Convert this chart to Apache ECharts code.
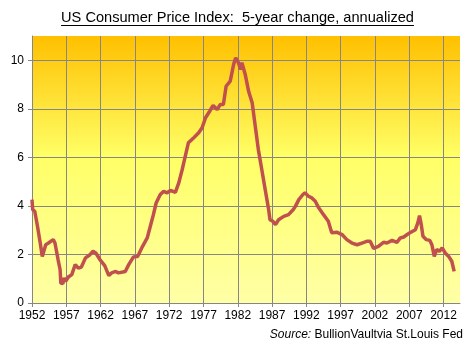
<!DOCTYPE html>
<html><head><meta charset="utf-8">
<script src="https://cdn.jsdelivr.net/npm/echarts@6/dist/echarts.min.js"></script>
<style>html,body{margin:0;padding:0;background:#fff}#c{width:475px;height:345px}</style>
</head><body><div id="c"></div>
<script>
const years = [1952.0,1952.1,1952.4,1952.8,1953.2,1953.5,1954.0,1954.4,1955.1,1955.35,1955.8,1956.1,1956.2,1956.5,1956.7,1956.9,1957.3,1957.8,1958.3,1958.75,1959.2,1959.8,1960.45,1960.9,1961.3,1961.9,1962.6,1963.2,1963.6,1964.2,1964.6,1965.6,1966.1,1966.8,1967.4,1968.0,1968.8,1969.25,1969.7,1970.1,1970.7,1971.2,1971.7,1972.2,1972.9,1973.4,1973.9,1974.35,1974.8,1975.55,1976.3,1976.8,1977.3,1977.9,1978.4,1979.0,1979.45,1979.9,1980.3,1980.9,1981.4,1981.7,1982.1,1982.4,1982.6,1983.1,1983.6,1984.1,1984.55,1985.0,1985.5,1986.0,1986.5,1986.7,1987.1,1987.5,1987.95,1988.7,1989.4,1989.65,1990.1,1990.4,1990.9,1991.5,1991.8,1992.3,1992.8,1993.3,1993.8,1994.5,1995.2,1995.7,1996.5,1997.2,1997.9,1998.65,1999.4,2000.1,2000.8,2001.3,2001.8,2002.5,2003.25,2003.75,2004.5,2005.2,2005.7,2006.2,2006.7,2007.1,2007.9,2008.25,2008.5,2008.75,2009.0,2009.5,2010.0,2010.3,2010.65,2011.0,2011.4,2011.8,2012.25,2012.75,2013.2,2013.55];
const cpiChange = [4.26,3.85,3.78,3.16,2.47,1.92,2.40,2.47,2.61,2.47,1.79,1.37,0.82,0.80,1.03,0.89,1.07,1.17,1.58,1.44,1.48,1.86,1.99,2.13,2.06,1.79,1.54,1.13,1.24,1.30,1.24,1.30,1.58,1.90,1.92,2.27,2.68,3.16,3.64,4.12,4.47,4.60,4.54,4.64,4.56,4.95,5.50,6.05,6.60,6.80,7.01,7.22,7.63,7.90,8.14,7.97,8.18,8.18,8.93,9.14,9.83,10.10,9.90,9.62,9.90,9.40,8.70,8.25,7.28,6.32,5.50,4.67,3.85,3.43,3.37,3.23,3.43,3.57,3.64,3.71,3.85,3.98,4.26,4.47,4.54,4.40,4.33,4.19,3.92,3.64,3.37,2.89,2.91,2.82,2.61,2.47,2.40,2.47,2.54,2.54,2.25,2.33,2.50,2.47,2.58,2.50,2.68,2.72,2.82,2.89,3.02,3.30,3.60,3.23,2.75,2.61,2.58,2.40,1.92,2.20,2.13,2.27,2.06,1.92,1.72,1.30];
const xTickStart = 1952, xTickStep = 5, xEnd = 2014.4;
const yMax = 11, yStep = 2;
const titleText = 'US Consumer Price Index:  5-year change, annualized';
const sourceLabel = 'Source:';
const sourceText = ' BullionVaultvia St.Louis Fed';

const chart = echarts.init(document.getElementById('c'), null, {renderer:'canvas'});
const font = '"Liberation Sans", Arial, sans-serif';
const titleFont = '14.6px ' + font;
const ctx = document.createElement('canvas').getContext('2d');
ctx.font = titleFont;
const tw = ctx.measureText(titleText).width;
const tx0 = (475 - tw) / 2;
chart.setOption({
  animation: false,
  grid: {left: 32, right: 15, top: 36, bottom: 42, show: true, borderWidth: 0,
    backgroundColor: new echarts.graphic.LinearGradient(0,0,0,1,[
      {offset:0, color:'#ffc000'},{offset:0.45, color:'#ffff66'},{offset:1, color:'#ffffa6'}])},
  xAxis: {type:'value', min: xTickStart, max: xEnd, interval: xTickStep,
    axisLine:{show:true, lineStyle:{color:'#868686', width:1}},
    axisTick:{show:true, length:4, lineStyle:{color:'#868686'}},
    splitLine:{show:true, showMaxLine:false, lineStyle:{color:'#868686', width:1}},
    axisLabel:{color:'#000', fontFamily:font, fontSize:12, margin:7, showMaxLabel:false,
      formatter: v => ((v - xTickStart) % xTickStep === 0 ? String(v) : '')}},
  yAxis: {type:'value', min:0, max:yMax, interval:yStep,
    axisLine:{show:true, lineStyle:{color:'#868686', width:1}},
    axisTick:{show:true, length:4, lineStyle:{color:'#868686'}},
    splitLine:{show:true, showMaxLine:false, lineStyle:{color:'#868686', width:1}},
    axisLabel:{color:'#000', fontFamily:font, fontSize:12, margin:8, showMaxLabel:false}},
  series: [{type:'line', data: years.map((y,i)=>[y, cpiChange[i]]), showSymbol:false,
    lineStyle:{color:'#c0504d', width:3.5}, z:3}],
  graphic: [
    {type:'text', x: tx0, y:10, style:{text:titleText, font:titleFont, fill:'#000'}},
    {type:'line', shape:{x1:tx0, y1:25.5, x2:tx0+tw, y2:25.5}, style:{stroke:'#000', lineWidth:1}},
    {type:'text', right:12, top:329, style:{
      text:'{i|'+sourceLabel+'}{n|'+sourceText+'}',
      rich:{i:{font:'italic 12px '+font, fill:'#000'}, n:{font:'12px '+font, fill:'#000'}}}}
  ]
});
</script></body></html>
